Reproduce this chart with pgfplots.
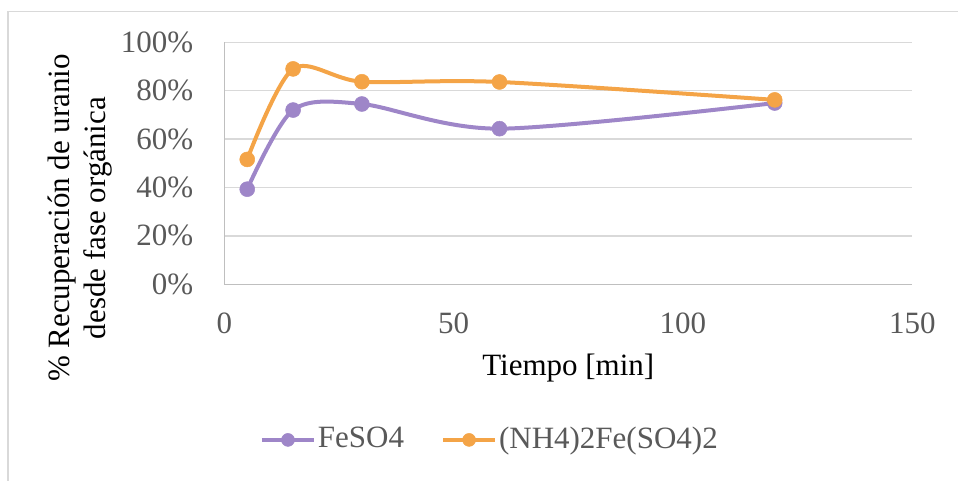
\documentclass[border=0pt]{standalone}
\usepackage{pgfplots}
\pgfplotsset{compat=1.18}
\usepackage{fontspec}
\setmainfont{Liberation Serif}
\definecolor{cpurple}{HTML}{9E86C8}
\definecolor{corange}{HTML}{F4A447}
\definecolor{cgrid}{HTML}{D9D9D9}
\definecolor{caxis}{HTML}{BFBFBF}
\definecolor{ctext}{HTML}{595959}
\begin{document}
\begin{tikzpicture}[x=1bp,y=1bp]
\fontsize{31bp}{36bp}\selectfont
\draw[cgrid,line width=1.3bp] (8,-5) -- (8,469.3) -- (965,469.3);
\begin{axis}[
  at={(224.3bp,196.7bp)}, anchor=south west,
  scale only axis, width=688bp, height=242bp,
  xmin=0, xmax=150, ymin=0, ymax=1,
  xtick={0,50,100,150}, ytick={0,0.2,0.4,0.6,0.8,1},
  yticklabels={0\%,20\%,40\%,60\%,80\%,100\%},
  ymajorgrids, grid style={cgrid,line width=1.3bp},
  axis x line*=bottom, axis y line*=left,
  axis line style={caxis,line width=1.3bp,-},
  tick style={draw=none},
  tick label style={text=ctext,font=\fontsize{31bp}{36bp}\selectfont},
  /pgf/number format/assume math mode=true,
  xticklabel style={anchor=base,yshift=-49bp},
  yticklabel style={anchor=east,inner sep=0pt,xshift=-31bp},
  xlabel={Tiempo [min]},
  ylabel={\% Recuperación de uranio\\desde fase orgánica},
  label style={text=ctext,font=\fontsize{31bp}{36bp}\selectfont},
  every axis x label/.style={at={(axis description cs:0.5,-0.377)},anchor=base},
  every axis y label/.style={at={(axis description cs:-0.2097,0.274)},anchor=center,rotate=90,align=center},
  legend style={at={(axis description cs:0.386,-0.643)},anchor=center,draw=none,
    legend columns=2,text=ctext,font=\fontsize{31bp}{36bp}\selectfont,
    /tikz/every even column/.append style={column sep=35bp},
    legend cell align=left},
  legend image code/.code={\draw[#1,/tikz/every mark/.append style={mark size=6.5bp},mark repeat=2,mark phase=2] plot coordinates {(0bp,0bp) (26bp,0bp) (52bp,0bp)};},
]
\addplot[cpurple,line width=4bp,smooth,tension=0.5,mark=*,mark options={fill=cpurple,draw=cpurple,line width=0.5bp,mark size=7.5bp}]
  coordinates {(5,0.393) (15,0.72) (30,0.745) (60,0.643) (120,0.749)};
\addlegendentry{FeSO4}
\addplot[corange,line width=4bp,smooth,tension=0.5,mark=*,mark options={fill=corange,draw=corange,line width=0.5bp,mark size=7.5bp}]
  coordinates {(5,0.516) (15,0.89) (30,0.837) (60,0.836) (120,0.762)};
\addlegendentry{(NH4)2Fe(SO4)2}
\end{axis}
\pgfresetboundingbox
\useasboundingbox (0,0) rectangle (958,481);
\end{tikzpicture}
\end{document}
